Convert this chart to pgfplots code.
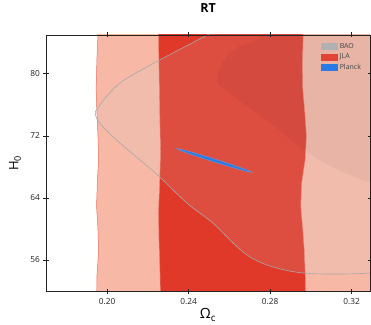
\documentclass[border=0pt]{standalone}
\usepackage{fontspec}
\setmainfont{Open Sans}
\usepackage{pgfplots}
\pgfplotsset{compat=1.18}
\definecolor{jlaout}{HTML}{F7B9A6}
\definecolor{jlain}{HTML}{E0392A}
\definecolor{jlaedge}{HTML}{E8705E}
\definecolor{baogray}{HTML}{D1D1D1}
\definecolor{baoline}{HTML}{A8A8A8}
\definecolor{planck}{HTML}{2A7BE4}
\definecolor{axgray}{HTML}{222222}
\begin{document}
\begin{tikzpicture}
\path[use as bounding box] (-46pt,-33pt) rectangle (325pt,291pt);
\begin{axis}[
  at={(0pt,0pt)}, anchor=south west,
  scale only axis, width=324pt, height=256pt,
  xmin=0.17, xmax=0.329, ymin=52, ymax=85,
  xtick={0.20,0.24,0.28,0.32},
  xticklabels={0.20,0.24,0.28,0.32},
  ytick={56,64,72,80},
  tick align=center, major tick length=5pt,
  tick style={axgray, line width=0.6pt},
  axis line style={axgray, line width=0.8pt},
  /pgf/number format/assume math mode=true,
  ticklabel style={font=\fontsize{8.3}{9}\selectfont, text=axgray},
  xticklabel style={yshift=-1pt},
  title={\textbf{RT}},
  title style={at={(0.5,1)}, anchor=center, yshift=21pt, font=\fontsize{12.5}{14}\selectfont},
  xlabel={Ω\textsubscript{c}},
  xlabel style={at={(0.5,0)}, anchor=center, yshift=-24pt, font=\fontsize{14}{16}\selectfont},
  ylabel={H\textsubscript{0}},
  ylabel style={at={(axis description cs:-0.0957,0.5)}, anchor=center, font=\fontsize{13}{15}\selectfont},
  legend style={at={(0.985,0.985)}, anchor=north east, draw=none, fill=none,
    font=\fontsize{7}{8}\selectfont, text=axgray!85, row sep=0pt,
    inner sep=2pt},
  legend cell align=left,
  axis on top,
]
% JLA outer (95%)
\addplot[forget plot, fill=jlaout, draw=jlaedge, line width=0.5pt] coordinates {
 (0.1955,90) (0.1955,85) (0.1950,82) (0.1946,78) (0.1950,75) (0.1955,72) (0.1958,69)
 (0.1952,66) (0.1948,63) (0.1955,60) (0.1958,57) (0.1950,54) (0.1948,50) (0.1948,45)
 (0.36,45) (0.36,90)} --cycle;
% JLA inner (68%)
\addplot[forget plot, fill=jlain, draw=jlaout!60!jlain, line width=0.4pt] coordinates {
 (0.2252,90) (0.2252,85) (0.2255,80) (0.2258,75) (0.2262,70) (0.2258,66) (0.2252,62)
 (0.2255,58) (0.2260,54) (0.2262,50) (0.2262,45)
 (0.2975,45) (0.2975,50) (0.2972,54) (0.2968,57) (0.2960,60) (0.2950,63) (0.2955,66)
 (0.2972,69) (0.2978,72) (0.2970,75) (0.2960,78) (0.2958,81) (0.2962,85) (0.2962,90)} --cycle;
% BAO outer
\addplot[forget plot, smooth, tension=0.6, fill=baogray, fill opacity=0.14, draw=baoline, line width=0.6pt] coordinates {
 (0.2700,88) (0.2491,85) (0.2250,81.67) (0.2079,79.10) (0.2000,77.18) (0.1956,75.63)
 (0.1941,74.86) (0.1966,73.58) (0.2049,71.40) (0.2147,69.21) (0.2211,67.80) (0.2260,66.65)
 (0.2393,63.31) (0.2520,60.74) (0.2619,58.17) (0.2702,56.37) (0.2815,55.09) (0.2962,54.32)
 (0.3144,54.19) (0.3291,54.32) (0.345,54.6) (0.36,56) (0.37,70) (0.37,90)} --cycle;
% BAO inner
\addplot[forget plot, smooth, tension=0.6, fill=black, fill opacity=0.04, draw=none] coordinates {
 (0.285,88) (0.2751,84.75) (0.2628,83.21) (0.2565,81.41) (0.2540,79.36) (0.2555,78.46)
 (0.2668,76.15) (0.2786,73.97) (0.2948,70.50) (0.3110,67.93) (0.3296,65.88)
 (0.345,64.8) (0.36,64.5) (0.37,90)} --cycle;
% Planck
\addplot[forget plot, fill=planck, draw=planck!70!white, line width=0.3pt] coordinates {
 (0.27120,67.29) (0.26881,67.588) (0.26207,68.219) (0.25277,69.014) (0.24341,69.759)
 (0.23651,70.256) (0.23390,70.37) (0.23629,70.072) (0.24303,69.441) (0.25233,68.646)
 (0.26169,67.901) (0.26859,67.404)} --cycle;
\addlegendimage{legend image code/.code={\fill[baoline!90!white] (0pt,-3pt) rectangle (16pt,3pt);}}
\addlegendentry{BAO}
\addlegendimage{legend image code/.code={\fill[jlain!95!white] (0pt,-3pt) rectangle (16pt,3pt);}}
\addlegendentry{JLA}
\addlegendimage{legend image code/.code={\fill[planck] (0pt,-3pt) rectangle (16pt,3pt);}}
\addlegendentry{Planck}
\end{axis}
\end{tikzpicture}
\end{document}
